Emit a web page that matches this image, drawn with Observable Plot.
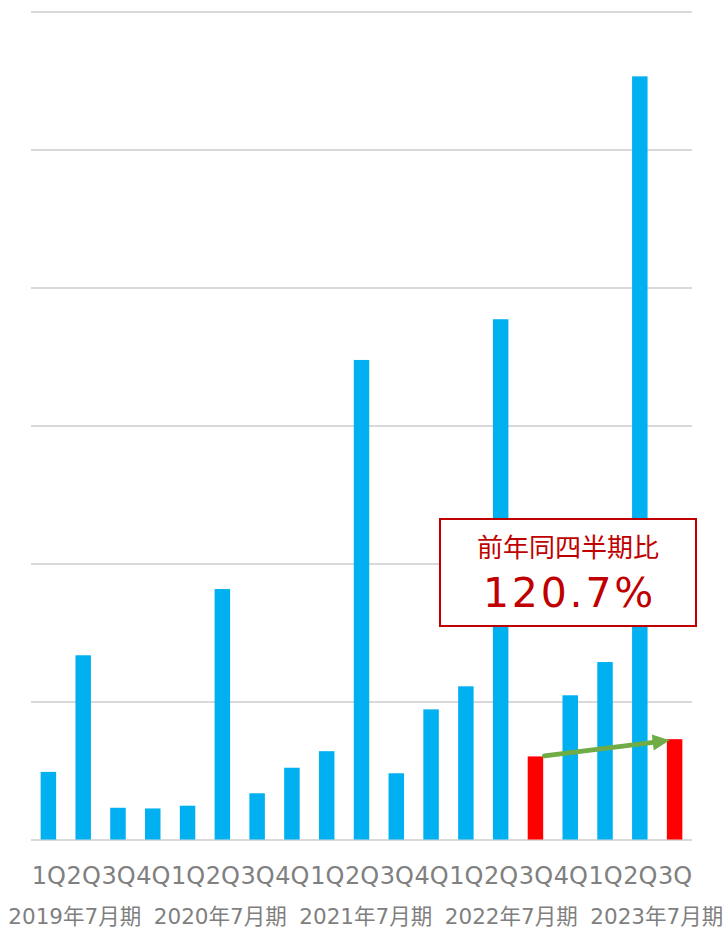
<!DOCTYPE html>
<html>
<head>
<meta charset="utf-8">
<script src="https://cdn.jsdelivr.net/npm/d3@7"></script>
<script src="https://cdn.jsdelivr.net/npm/@observablehq/plot@0.6"></script>
<style>
  html, body { margin: 0; padding: 0; background: #fff; }
  #wrap { position: relative; width: 725px; height: 929px; overflow: hidden; }
  #years { position: absolute; left: 2px; top: 903px; display: flex; }
  #years span { width: 145.5px; text-align: center; line-height: 28px;
    font-family: "DejaVu Sans", "Noto Sans CJK JP", sans-serif; font-size: 21.5px; color: #7f7f7f; white-space: nowrap; }
  #callout { position: absolute; left: 439px; top: 518px; width: 254px; height: 105px;
    border: 2.5px solid #c00000; background: #fff; color: #c00000; text-align: center;
    font-family: "Noto Sans CJK JP", "DejaVu Sans", sans-serif; }
  #callout .t1 { font-size: 26px; line-height: 30px; margin-top: 11px; }
  #callout .t2 { font-family: "DejaVu Sans", sans-serif; font-size: 41px; line-height: 50px; letter-spacing: 2.8px; margin-top: 7px; padding-left: 3px; }
</style>
</head>
<body>
<div id="wrap">
  <div id="chart"></div>
  <div id="years"></div>
  <div id="callout"><div class="t1">前年同四半期比</div><div class="t2">120.7%</div></div>
</div>
<script>
// Fiscal years and quarters
const fiscalYears = ["2019年7月期", "2020年7月期", "2021年7月期", "2022年7月期", "2023年7月期"];
const quarterLabels = ["1Q","2Q","3Q","4Q","1Q","2Q","3Q","4Q","1Q","2Q","3Q","4Q","1Q","2Q","3Q","4Q","1Q","2Q","3Q"];
const yearOfBar = [0,0,0,0,1,1,1,1,2,2,2,2,3,3,3,3,4,4,4];
// Values (relative units, gridline = 100)
const values = [49, 133.5, 23, 22.5, 24.5, 181.5, 33.5, 52, 64, 347.5, 48, 94.3, 111, 377, 60.2, 104.5, 128.6, 553, 72.7];
// Highlighted bars (same quarter comparison)
const highlight = [14, 18];
const gridTicks = [0, 100, 200, 300, 400, 500, 600];

const rows = values.map((v, i) => ({
  id: fiscalYears[yearOfBar[i]] + "-" + quarterLabels[i],
  q: quarterLabels[i],
  v,
  hl: highlight.includes(i)
}));
const domain = rows.map(d => d.id);
const qById = new Map(rows.map(d => [d.id, d.q]));

const from = rows[highlight[0]], to = rows[highlight[1]];
const arrowData = [{ a: from, b: to }];
const green = "#6fac46";

// filled triangular arrow head, tip set back so it touches the bar edge
function headMarker(color, context) {
  const doc = (context && context.document) || document;
  const ns = "http://www.w3.org/2000/svg";
  const m = doc.createElementNS(ns, "marker");
  m.setAttribute("viewBox", "-20 -10 24 20");
  m.setAttribute("markerUnits", "userSpaceOnUse");
  m.setAttribute("markerWidth", "24");
  m.setAttribute("markerHeight", "20");
  m.setAttribute("refX", "5.5");
  m.setAttribute("refY", "0");
  m.setAttribute("orient", "auto");
  const p = doc.createElementNS(ns, "path");
  p.setAttribute("d", "M0,0L-17,-8L-17,8Z");
  p.setAttribute("fill", green);
  p.setAttribute("fill-opacity", "1");
  p.setAttribute("stroke", "none");
  m.appendChild(p);
  return m;
}

const chart = Plot.plot({
  width: 725,
  height: 895,
  marginLeft: 31,
  marginRight: 33,
  marginTop: 11.5,
  marginBottom: 55.5,
  style: { fontFamily: "DejaVu Sans, sans-serif", fontSize: "24px", color: "#808080", background: "#fff" },
  x: { type: "band", domain, paddingInner: 0.555, paddingOuter: 0.2775, label: null, round: false },
  y: { domain: [0, 600], axis: null },
  marks: [
    Plot.ruleY(gridTicks, { stroke: "#d9d9d9", strokeWidth: 2 }),
    Plot.barY(rows, { x: "id", y: "v", fill: d => d.hl ? "#ff0000" : "#00b0f0" }),
    Plot.arrow(arrowData, {
      x1: d => d.a.id, y1: d => d.a.v, x2: d => d.b.id, y2: d => d.b.v,
      insetStart: 8.5, insetEnd: 18, stroke: green, strokeWidth: 4.8, headLength: 0, bend: 0
    }),
    Plot.link(arrowData, {
      x1: d => d.a.id, y1: d => d.a.v, x2: d => d.b.id, y2: d => d.b.v,
      stroke: green, strokeOpacity: 0, markerEnd: headMarker
    }),
    Plot.axisX({ tickSize: 0, tickPadding: 27, tickFormat: d => qById.get(d), fill: "#808080" })
  ]
});
document.getElementById("chart").appendChild(chart);

const yearsDiv = document.getElementById("years");
fiscalYears.forEach(y => {
  const s = document.createElement("span");
  s.textContent = y;
  yearsDiv.appendChild(s);
});
</script>
</body>
</html>
